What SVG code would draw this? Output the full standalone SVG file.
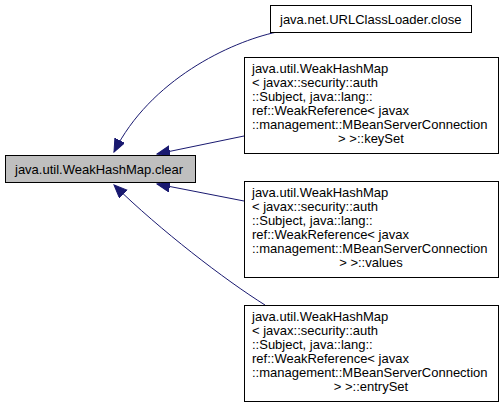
<svg xmlns="http://www.w3.org/2000/svg" width="504" height="410" viewBox="0 0 504 410">
<style>
text{font-family:"Liberation Sans",Arial,sans-serif;font-size:13px;fill:#000}
.box{fill:#fff;stroke:#000;stroke-width:1}
.main{fill:#bfbfbf;stroke:#000;stroke-width:1}
.edge{fill:none;stroke:#191970;stroke-width:1}
</style>
<defs>
<marker id="ah" markerUnits="userSpaceOnUse" markerWidth="14" markerHeight="12" refX="13" refY="5.5" orient="auto">
<path d="M0,0 L13,5.5 L0,11 z" fill="#191970" stroke="#191970"/>
</marker>
</defs>
<g id="connectors">
<path class="edge" d="M277,32 C230,42 150,80 114,152" marker-end="url(#ah)"/>
<path class="edge" d="M244,136 L157,154" marker-end="url(#ah)"/>
<path class="edge" d="M244,201 L157,184" marker-end="url(#ah)"/>
<path class="edge" d="M265,305 C225,280 160,230 114,185" marker-end="url(#ah)"/>
</g>
<g id="node-main">
<rect class="main" x="5.5" y="155.5" width="190" height="27"/>
<text x="15" y="173.5">java.util.WeakHashMap.clear</text>
</g>
<g id="node-close">
<rect class="box" x="270.5" y="5.5" width="201" height="27"/>
<text x="280" y="23.5">java.net.URLClassLoader.close</text>
</g>
<g id="node-keyset">
<rect class="box" x="244.5" y="57.5" width="254" height="96"/>
<text x="252" y="73">java.util.WeakHashMap</text>
<text x="252" y="87">&lt; javax::security::auth</text>
<text x="252" y="101">::Subject, java::lang::</text>
<text x="252" y="115">ref::WeakReference&lt; javax</text>
<text x="252" y="129">::management::MBeanServerConnection</text>
<text x="371" y="143" text-anchor="middle">&gt; &gt;::keySet</text>
</g>
<g id="node-values">
<rect class="box" x="244.5" y="181.5" width="254" height="96"/>
<text x="252" y="197">java.util.WeakHashMap</text>
<text x="252" y="211">&lt; javax::security::auth</text>
<text x="252" y="225">::Subject, java::lang::</text>
<text x="252" y="239">ref::WeakReference&lt; javax</text>
<text x="252" y="253">::management::MBeanServerConnection</text>
<text x="371" y="267" text-anchor="middle">&gt; &gt;::values</text>
</g>
<g id="node-entryset">
<rect class="box" x="244.5" y="305.5" width="254" height="96"/>
<text x="252" y="321">java.util.WeakHashMap</text>
<text x="252" y="335">&lt; javax::security::auth</text>
<text x="252" y="349">::Subject, java::lang::</text>
<text x="252" y="363">ref::WeakReference&lt; javax</text>
<text x="252" y="377">::management::MBeanServerConnection</text>
<text x="371" y="391" text-anchor="middle">&gt; &gt;::entrySet</text>
</g>
</svg>
